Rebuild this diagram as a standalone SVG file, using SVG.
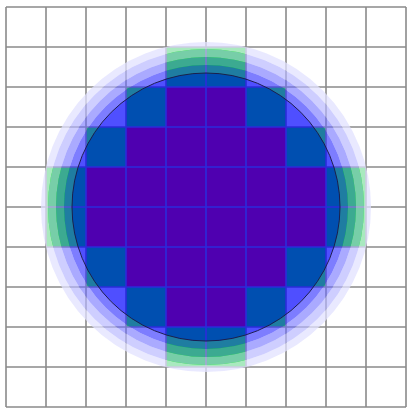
<svg xmlns="http://www.w3.org/2000/svg" width="411" height="415" viewBox="0 0 411 415">
  <style>
    .r { fill: #ff0000; }
    .g { fill: #00ff00; }
    .grid { stroke: #8a8a8a; stroke-width: 1.6; fill: none; }
    .band { fill: none; }
  </style>
  <rect x="0" y="0" width="411" height="415" fill="#ffffff"/>
  <g id="cells">
    <!-- row 1 -->
    <rect class="g" x="166" y="47" width="80" height="40"/>
    <!-- row 2 -->
    <rect class="g" x="126" y="87" width="40" height="40"/>
    <rect class="r" x="166" y="87" width="80" height="40"/>
    <rect class="g" x="246" y="87" width="40" height="40"/>
    <!-- row 3 -->
    <rect class="g" x="86" y="127" width="40" height="40"/>
    <rect class="r" x="126" y="127" width="160" height="40"/>
    <rect class="g" x="286" y="127" width="40" height="40"/>
    <!-- rows 4-5 -->
    <rect class="g" x="46" y="167" width="40" height="80"/>
    <rect class="r" x="86" y="167" width="240" height="80"/>
    <rect class="g" x="326" y="167" width="40" height="80"/>
    <!-- row 6 -->
    <rect class="g" x="86" y="247" width="40" height="40"/>
    <rect class="r" x="126" y="247" width="160" height="40"/>
    <rect class="g" x="286" y="247" width="40" height="40"/>
    <!-- row 7 -->
    <rect class="g" x="126" y="287" width="40" height="40"/>
    <rect class="r" x="166" y="287" width="80" height="40"/>
    <rect class="g" x="246" y="287" width="40" height="40"/>
    <!-- row 8 -->
    <rect class="g" x="166" y="327" width="80" height="40"/>
  </g>
  <g id="grid" class="grid">
    <path d="M6 7V407M46 7V407M86 7V407M126 7V407M166 7V407M206 7V407M246 7V407M286 7V407M326 7V407M366 7V407M406 7V407"/>
    <path d="M6 7H406M6 47H406M6 87H406M6 127H406M6 167H406M6 207H406M6 247H406M6 287H406M6 327H406M6 367H406M6 407H406"/>
  </g>
  <g id="circle">
    <circle class="band" cx="206" cy="207" r="161.5" stroke="#e1e1ff" stroke-opacity="0.75" stroke-width="7"/>
    <circle class="band" cx="206" cy="207" r="154" stroke="#b4b4ff" stroke-opacity="0.66" stroke-width="8"/>
    <circle class="band" cx="206" cy="207" r="146" stroke="#6a6aff" stroke-opacity="0.57" stroke-width="8"/>
    <circle class="band" cx="206" cy="207" r="138" stroke="#3131ff" stroke-opacity="0.63" stroke-width="8"/>
    <circle cx="206" cy="207" r="134" fill="#0000ff" fill-opacity="0.69"/>
    <circle cx="206" cy="207" r="134" fill="none" stroke="#1c1c50" stroke-width="1"/>
  </g>
</svg>
